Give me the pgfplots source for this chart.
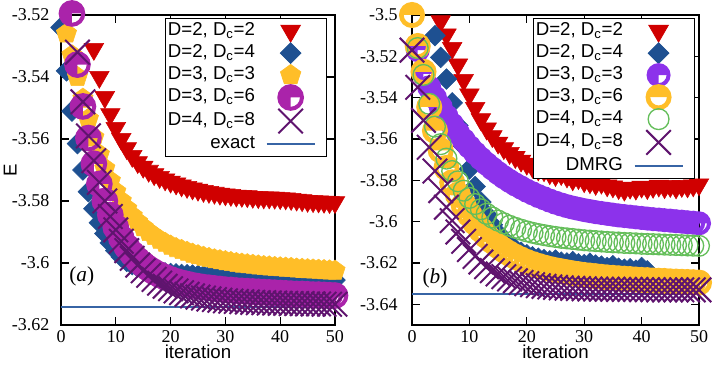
\documentclass[border=0pt]{standalone}
\usepackage{fontspec}
\setmainfont{Liberation Serif}
\setsansfont{Liberation Sans}
\usepackage{pgfplots}
\pgfplotsset{compat=1.18}
\definecolor{cRed}{RGB}{208,0,0}
\definecolor{cBlue}{RGB}{30,80,145}
\definecolor{cYel}{RGB}{255,190,40}
\definecolor{cMag}{RGB}{170,35,170}
\definecolor{cPur}{RGB}{95,20,110}
\definecolor{cLine}{RGB}{55,100,165}
\definecolor{cVio}{RGB}{140,50,235}
\definecolor{cGrn}{RGB}{100,190,90}
\pgfdeclareplotmark{pieq}{%
  \pgfpathmoveto{\pgfpointorigin}%
  \pgfpathlineto{\pgfqpoint{\pgfplotmarksize}{0pt}}%
  \pgfpatharc{0}{270}{\pgfplotmarksize}%
  \pgfpathclose
  \pgfusepathqfill
  \pgfpathcircle{\pgfpointorigin}{\pgfplotmarksize}%
  \pgfusepathqstroke
}
\pgfdeclareplotmark{pieh}{%
  \pgfpathmoveto{\pgfqpoint{\pgfplotmarksize}{0pt}}%
  \pgfpatharc{0}{180}{\pgfplotmarksize}%
  \pgfpathclose
  \pgfusepathqfill
  \pgfpathcircle{\pgfpointorigin}{\pgfplotmarksize}%
  \pgfusepathqstroke
}
\pgfplotsset{
  markleg/.style={legend image code/.code={%
      \path[draw=none,fill=none] (0pt,-1pt) rectangle (44pt,1pt);
      \draw[only marks] plot coordinates {(18pt,0pt)};}},
  lineleg/.style={legend image code/.code={%
      \path[draw=none,fill=none] (0pt,-1pt) rectangle (44pt,1pt);
      \draw (0pt,0pt) -- (36pt,0pt);}},
  myax/.style={
    scale only axis, clip=false,
    xmin=0, xmax=50,
    xtick={0,10,20,30,40,50}, xticklabels={0,10,20,30,40,50},
    axis line style={line width=1pt},
    major tick length=6pt,
    tick style={line width=0.9pt, black},
    minor tick num=0,
    tick label style={font=\fontsize{13.5}{14}\selectfont},
    xticklabel style={inner sep=0pt, yshift=-3.75pt},
    xlabel={iteration},
    xlabel style={font=\sffamily\fontsize{14}{14}\selectfont, at={(axis description cs:0.5,0)}, anchor=north, inner sep=0pt, yshift=-15pt},
    legend plot pos=right,
    legend cell align=right,
    legend style={draw=black, line width=0.6pt, fill=white,
      font=\sffamily\fontsize{14}{14}\selectfont,
      inner xsep=1pt, inner ysep=1pt, row sep=0pt,
      nodes={inner sep=1pt, text height=10.5pt, text depth=4pt},
      /tikz/every odd column/.append style={column sep=7pt}},
  }
}
\begin{document}
\begin{tikzpicture}
\useasboundingbox (0,0) rectangle (536.25pt,274.5pt);
% ---------------- (a)
\begin{axis}[myax,
  at={(45.75pt,30.75pt)}, anchor=south west,
  width=205.5pt, height=232.5pt,
  ymin=-3.62, ymax=-3.52,
  ytick={-3.62,-3.60,-3.58,-3.56,-3.54,-3.52},
  yticklabels={-3.62,-3.6,-3.58,-3.56,-3.54,-3.52},
  yticklabel style={inner sep=0pt, xshift=-8.5pt},
  ylabel={E},
  ylabel style={font=\sffamily\fontsize{14}{14}\selectfont, at={(axis description cs:-0.185,0.5)}, anchor=center, inner sep=0pt},
  legend style={at={(rel axis cs:0.971,0.99)}, anchor=north east},
]
\addplot[markleg, only marks, mark=triangle*, mark size=8.5pt, mark options={rotate=180, fill=cRed, draw=cRed}] coordinates {
(6,-3.531)(7,-3.540)(8,-3.5465)(9,-3.552)(10,-3.5565)(11,-3.5600)(12,-3.5630)(13,-3.5655)(14,-3.5675)(15,-3.5690)(16,-3.5703)(17,-3.5714)(18,-3.5723)(19,-3.5731)(20,-3.5738)(21,-3.5744)(22,-3.5750)(23,-3.5755)(24,-3.5760)(25,-3.5764)(26,-3.5768)(27,-3.5771)(28,-3.5774)(29,-3.5777)(30,-3.5779)(31,-3.5781)(32,-3.5783)(33,-3.5784)(34,-3.5785)(35,-3.5787)(36,-3.5788)(37,-3.5789)(38,-3.5789)(39,-3.5790)(40,-3.5791)(41,-3.5792)(42,-3.5794)(43,-3.5796)(44,-3.5798)(45,-3.5800)(46,-3.5801)(47,-3.5802)(48,-3.5803)(49,-3.5804)(50,-3.5804)};
\addlegendentry{D=2, D\textsubscript{c}=2}
\addplot[markleg, only marks, mark=square*, mark size=5.5pt, mark options={rotate=45, fill=cBlue, draw=cBlue}] coordinates {
(0,-3.524)(1,-3.538)(2,-3.551)(3,-3.5615)(4,-3.570)(5,-3.577)(6,-3.5825)(7,-3.587)(8,-3.5905)(9,-3.5935)(10,-3.596)(11,-3.598)(12,-3.5995)(13,-3.6005)(14,-3.6013)(15,-3.602)(16,-3.6024)(17,-3.6027)(18,-3.603)(19,-3.6032)(20,-3.6034)(21,-3.6035)(22,-3.6037)(23,-3.6038)(24,-3.6039)(25,-3.604)(26,-3.6041)(27,-3.6042)(28,-3.6043)(29,-3.6044)(30,-3.6045)(31,-3.6046)(32,-3.6046)(33,-3.6047)(34,-3.6048)(35,-3.6048)(36,-3.6049)(37,-3.605)(38,-3.605)(39,-3.6051)(40,-3.6051)(41,-3.6052)(42,-3.6052)(43,-3.6053)(44,-3.6053)(45,-3.6054)(46,-3.6054)(47,-3.6054)(48,-3.6055)(49,-3.6055)(50,-3.6055)};
\addlegendentry{D=2, D\textsubscript{c}=4}
\addplot[markleg, only marks, mark=pentagon*, mark size=8pt, mark options={fill=cYel, draw=cYel}] coordinates {
(1,-3.526)(2,-3.533)(3,-3.540)(4,-3.547)(5,-3.5535)(6,-3.5595)(7,-3.565)(8,-3.5695)(9,-3.5735)(10,-3.577)(11,-3.580)(12,-3.5825)(13,-3.5848)(14,-3.5868)(15,-3.5885)(16,-3.590)(17,-3.5913)(18,-3.5925)(19,-3.5935)(20,-3.5944)(21,-3.5952)(22,-3.5958)(23,-3.5964)(24,-3.597)(25,-3.5975)(26,-3.598)(27,-3.5984)(28,-3.5988)(29,-3.5991)(30,-3.5994)(31,-3.5997)(32,-3.600)(33,-3.6002)(34,-3.6004)(35,-3.6006)(36,-3.6008)(37,-3.601)(38,-3.6011)(39,-3.6013)(40,-3.6014)(41,-3.6015)(42,-3.6016)(43,-3.6018)(44,-3.6019)(45,-3.602)(46,-3.6021)(47,-3.6022)(48,-3.6023)(49,-3.6024)(50,-3.6025)};
\addlegendentry{D=3, D\textsubscript{c}=3}
\addplot[markleg, only marks, mark=pieq, mark size=8.5pt, mark options={fill=cMag, draw=cMag, line width=3pt}] coordinates {
(2,-3.5195)(3,-3.536)(4,-3.5495)(5,-3.5597)(6,-3.568)(7,-3.5745)(8,-3.580)(9,-3.5845)(10,-3.5885)(11,-3.592)(12,-3.5948)(13,-3.597)(14,-3.599)(15,-3.6005)(16,-3.6018)(17,-3.6029)(18,-3.6038)(19,-3.6046)(20,-3.6053)(21,-3.6059)(22,-3.6064)(23,-3.6068)(24,-3.6072)(25,-3.6075)(26,-3.6078)(27,-3.608)(28,-3.6082)(29,-3.6084)(30,-3.6086)(31,-3.6087)(32,-3.6089)(33,-3.609)(34,-3.6091)(35,-3.6092)(36,-3.6093)(37,-3.6094)(38,-3.6095)(39,-3.6096)(40,-3.6097)(41,-3.6098)(42,-3.6099)(43,-3.61)(44,-3.61)(45,-3.6101)(46,-3.6102)(47,-3.6102)(48,-3.6103)(49,-3.6104)(50,-3.6105)};
\addlegendentry{D=3, D\textsubscript{c}=6}
\addplot[markleg, only marks, mark=x, mark size=13pt, mark options={draw=cPur, line width=1.5pt}] coordinates {
(3,-3.532)(4,-3.548)(5,-3.559)(6,-3.567)(7,-3.574)(8,-3.580)(9,-3.585)(10,-3.5893)(11,-3.593)(12,-3.596)(13,-3.5985)(14,-3.6007)(15,-3.6025)(16,-3.604)(17,-3.6053)(18,-3.6065)(19,-3.6075)(20,-3.6083)(21,-3.609)(22,-3.6096)(23,-3.6101)(24,-3.6106)(25,-3.611)(26,-3.6113)(27,-3.6116)(28,-3.6118)(29,-3.612)(30,-3.6122)(31,-3.6123)(32,-3.6124)(33,-3.6125)(34,-3.6126)(35,-3.6127)(36,-3.6128)(37,-3.6128)(38,-3.6129)(39,-3.6129)(40,-3.613)(41,-3.613)(42,-3.6131)(43,-3.6131)(44,-3.6131)(45,-3.6132)(46,-3.6132)(47,-3.6132)(48,-3.6133)(49,-3.6133)(50,-3.6133)};
\addlegendentry{D=4, D\textsubscript{c}=8}
\addplot[lineleg, cLine, line width=1.5pt, mark=none] coordinates {(0,-3.6141)(50,-3.6141)};
\addlegendentry{exact}
\node at (axis cs:3.8,-3.6043) {\fontsize{16}{16}\selectfont(\textit{a})};
\end{axis}
% ---------------- (b)
\begin{axis}[myax,
  at={(309pt,30.75pt)}, anchor=south west,
  width=215.25pt, height=232.5pt,
  ymin=-3.65, ymax=-3.5,
  ytick={-3.64,-3.62,-3.60,-3.58,-3.56,-3.54,-3.52,-3.50},
  yticklabels={-3.64,-3.62,-3.6,-3.58,-3.56,-3.54,-3.52,-3.5},
  yticklabel style={inner sep=0pt, xshift=-10.5pt},
  legend style={at={(rel axis cs:0.986,0.99)}, anchor=north east},
]
\addplot[markleg, only marks, mark=triangle*, mark size=8.5pt, mark options={rotate=180, fill=cRed, draw=cRed}] coordinates {
(5,-3.503)(6,-3.5095)(7,-3.516)(8,-3.524)(9,-3.5315)(10,-3.5385)(11,-3.545)(12,-3.5505)(13,-3.555)(14,-3.5587)(15,-3.5618)(16,-3.5645)(17,-3.5668)(18,-3.5688)(19,-3.5705)(20,-3.572)(21,-3.5735)(22,-3.5748)(23,-3.5752)(24,-3.5766)(25,-3.5775)(26,-3.577)(27,-3.5782)(28,-3.5796)(29,-3.579)(30,-3.5805)(31,-3.581)(32,-3.5818)(33,-3.5812)(34,-3.5825)(35,-3.583)(36,-3.5838)(37,-3.5846)(38,-3.5836)(39,-3.5841)(40,-3.5831)(41,-3.5838)(42,-3.5832)(43,-3.5826)(44,-3.5834)(45,-3.5828)(46,-3.5835)(47,-3.5828)(48,-3.583)(49,-3.5825)(50,-3.582)};
\addlegendentry{D=2, D\textsubscript{c}=2}
\addplot[markleg, only marks, mark=square*, mark size=5.5pt, mark options={rotate=45, fill=cBlue, draw=cBlue}] coordinates {
(4,-3.510)(5,-3.5205)(6,-3.531)(7,-3.5425)(8,-3.5535)(9,-3.5635)(10,-3.5745)(11,-3.583)(12,-3.5905)(13,-3.5965)(14,-3.6015)(15,-3.6055)(16,-3.6088)(17,-3.6113)(18,-3.6133)(19,-3.6148)(20,-3.616)(21,-3.617)(22,-3.6177)(23,-3.6184)(24,-3.619)(25,-3.6186)(26,-3.6196)(27,-3.62)(28,-3.6193)(29,-3.6204)(30,-3.6208)(31,-3.6201)(32,-3.621)(33,-3.6215)(34,-3.6222)(35,-3.6213)(36,-3.6225)(37,-3.623)(38,-3.6228)(39,-3.6235)(40,-3.6222)(41,-3.6238)};
\addlegendentry{D=2, D\textsubscript{c}=4}
\addplot[markleg, only marks, mark=pieq, mark size=7.5pt, mark options={fill=cVio, draw=cVio, line width=3pt}] coordinates {
(1,-3.517)(2,-3.5285)(3,-3.535)(4,-3.540)(5,-3.5445)(6,-3.549)(7,-3.553)(8,-3.557)(9,-3.5605)(10,-3.5638)(11,-3.5668)(12,-3.5695)(13,-3.572)(14,-3.5743)(15,-3.5765)(16,-3.5785)(17,-3.5803)(18,-3.582)(19,-3.5835)(20,-3.585)(21,-3.5863)(22,-3.5876)(23,-3.5887)(24,-3.5898)(25,-3.5908)(26,-3.5917)(27,-3.5925)(28,-3.5932)(29,-3.5938)(30,-3.5944)(31,-3.5949)(32,-3.5954)(33,-3.5958)(34,-3.5962)(35,-3.5966)(36,-3.597)(37,-3.5973)(38,-3.5976)(39,-3.5979)(40,-3.5982)(41,-3.5985)(42,-3.5988)(43,-3.599)(44,-3.5993)(45,-3.5995)(46,-3.5998)(47,-3.6)(48,-3.6003)(49,-3.6005)(50,-3.6008)};
\addlegendentry{D=3, D\textsubscript{c}=3}
\addplot[markleg, only marks, mark=pieh, mark size=8pt, mark options={fill=cYel, draw=cYel, line width=3.5pt}] coordinates {
(0,-3.500)(1,-3.515)(2,-3.5275)(3,-3.5445)(4,-3.556)(5,-3.5655)(6,-3.574)(7,-3.581)(8,-3.587)(9,-3.592)(10,-3.5965)(11,-3.6005)(12,-3.604)(13,-3.607)(14,-3.6095)(15,-3.6118)(16,-3.6138)(17,-3.6155)(18,-3.617)(19,-3.6183)(20,-3.6195)(21,-3.6205)(22,-3.6214)(23,-3.6222)(24,-3.6229)(25,-3.6235)(26,-3.624)(27,-3.6245)(28,-3.625)(29,-3.6254)(30,-3.6258)(31,-3.6261)(32,-3.6264)(33,-3.6267)(34,-3.627)(35,-3.6272)(36,-3.6274)(37,-3.6276)(38,-3.6278)(39,-3.628)(40,-3.6282)(41,-3.6283)(42,-3.6285)(43,-3.6286)(44,-3.6287)(45,-3.6289)(46,-3.629)(47,-3.6291)(48,-3.6292)(49,-3.6293)(50,-3.6295)};
\addlegendentry{D=3, D\textsubscript{c}=6}
\addplot[markleg, only marks, mark=o, mark size=7.8pt, mark options={draw=cGrn, line width=1pt}] coordinates {
(1,-3.516)(2,-3.529)(3,-3.543)(4,-3.554)(5,-3.5625)(6,-3.5695)(7,-3.5755)(8,-3.5805)(9,-3.585)(10,-3.5885)(11,-3.5915)(12,-3.594)(13,-3.5962)(14,-3.598)(15,-3.5995)(16,-3.6008)(17,-3.602)(18,-3.603)(19,-3.6039)(20,-3.6047)(21,-3.6054)(22,-3.606)(23,-3.6065)(24,-3.607)(25,-3.6074)(26,-3.6078)(27,-3.6081)(28,-3.6084)(29,-3.6087)(30,-3.609)(31,-3.6092)(32,-3.6094)(33,-3.6096)(34,-3.6098)(35,-3.61)(36,-3.6101)(37,-3.6103)(38,-3.6104)(39,-3.6105)(40,-3.6107)(41,-3.6108)(42,-3.6109)(43,-3.611)(44,-3.6111)(45,-3.6112)(46,-3.6113)(47,-3.6114)(48,-3.6115)(49,-3.6116)(50,-3.6117)};
\addlegendentry{D=4, D\textsubscript{c}=4}
\addplot[markleg, only marks, mark=x, mark size=13pt, mark options={draw=cPur, line width=1.5pt}] coordinates {
(0,-3.517)(1,-3.535)(2,-3.551)(3,-3.564)(4,-3.5755)(5,-3.585)(6,-3.593)(7,-3.5995)(8,-3.605)(9,-3.6095)(10,-3.6135)(11,-3.6168)(12,-3.6195)(13,-3.6218)(14,-3.6237)(15,-3.6253)(16,-3.6266)(17,-3.6277)(18,-3.6286)(19,-3.6294)(20,-3.63)(21,-3.6305)(22,-3.631)(23,-3.6313)(24,-3.6316)(25,-3.6318)(26,-3.632)(27,-3.6322)(28,-3.6323)(29,-3.6324)(30,-3.6325)(31,-3.6326)(32,-3.6326)(33,-3.6327)(34,-3.6327)(35,-3.6327)(36,-3.6328)(37,-3.6328)(38,-3.6328)(39,-3.6328)(40,-3.6329)(41,-3.6329)(42,-3.6329)(43,-3.633)(44,-3.633)(45,-3.633)(46,-3.633)(47,-3.633)(48,-3.633)(49,-3.633)(50,-3.633)};
\addlegendentry{D=4, D\textsubscript{c}=8}
\addplot[lineleg, cLine, line width=1.5pt, mark=none] coordinates {(0,-3.635)(50,-3.635)};
\addlegendentry{DMRG}
\node at (axis cs:4.0,-3.6273) {\fontsize{16}{16}\selectfont(\textit{b})};
\end{axis}
\end{tikzpicture}
\end{document}
